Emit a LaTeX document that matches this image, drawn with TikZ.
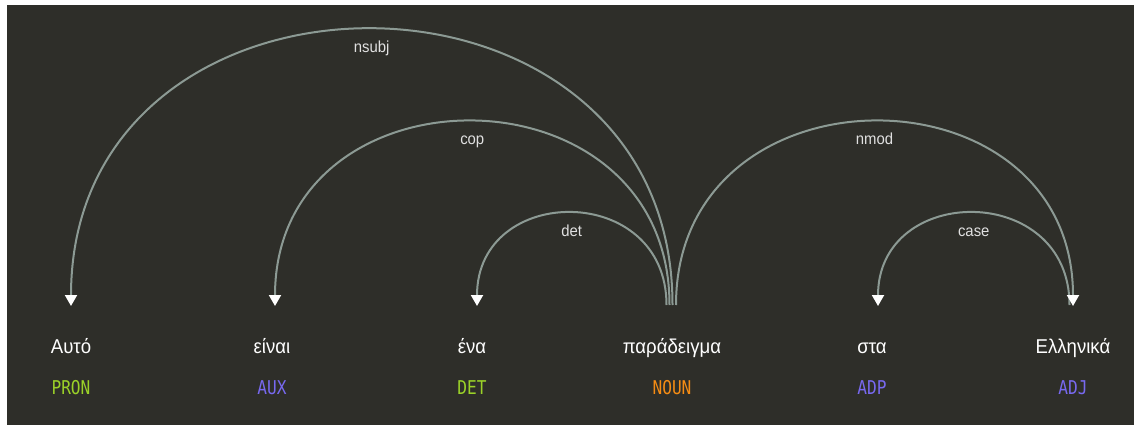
\documentclass[tikz,border=0pt]{standalone}
\usepackage{fontspec}
\setmainfont{Liberation Sans}[FakeStretch=0.93]
\newfontfamily\tagfont{DejaVu Sans Mono}[FakeStretch=0.85]
\usetikzlibrary{arrows.meta}
\definecolor{bgdark}{RGB}{46,46,41}
\definecolor{arcgrey}{RGB}{140,154,148}
\definecolor{tagpron}{RGB}{155,210,40}
\definecolor{tagaux}{RGB}{120,105,240}
\definecolor{tagnoun}{RGB}{245,140,20}
\begin{document}
\begin{tikzpicture}[x=1pt, y=-1pt,
    word/.style={anchor=base, text=white, font=\fontsize{20}{22}\selectfont},
    postag/.style={anchor=base, font=\tagfont\fontsize{19}{21}\selectfont},
    arc/.style={draw=arcgrey, line width=2pt, -{Triangle[width=12pt,length=11pt,color=white]}},
    lbl/.style={midway, anchor=base, yshift=-23pt, text=white!88!black, font=\fontsize{16}{18}\selectfont}]
  \useasboundingbox (0,0) rectangle (1134,425);
  \fill[bgdark] (7,5) rectangle (1134,425);
  % words and their tags
  \node[word] (w1) at (71,353) {Αυτό};
  \node[word] (w2) at (272,353) {είναι};
  \node[word] (w3) at (472,353) {ένα};
  \node[word] (w4) at (672,353) {παράδειγμα};
  \node[word] (w5) at (872,353) {στα};
  \node[word] (w6) at (1073,353) {Ελληνικά};
  \node[postag, text=tagpron] (t1) at (71,394) {PRON};
  \node[postag, text=tagaux] (t2) at (272,394) {AUX};
  \node[postag, text=tagpron] (t3) at (472,394) {DET};
  \node[postag, text=tagnoun] (t4) at (672,394) {NOUN};
  \node[postag, text=tagaux] (t5) at (872,394) {ADP};
  \node[postag, text=tagaux] (t6) at (1073,394) {ADJ};
  % arc ends
  \coordinate (in1) at (71,306);
  \coordinate (in2) at (275,306);
  \coordinate (in3) at (477,306);
  \coordinate (in5) at (878,306);
  \coordinate (in6) at (1073,306);
  \coordinate (out-det) at (666.5,305);
  \coordinate (out-cop) at (669.5,305);
  \coordinate (out-nsubj) at (672.5,305);
  \coordinate (out-nmod) at (676,305);
  \coordinate (out-case) at (1069.5,305);
  % dependencies (case first, so the nmod head sits on top)
  \draw[arc] (out-case) .. controls +(0,-123) and +(0,-123) .. (in5) node[lbl] {case};
  \draw[arc] (out-nsubj) .. controls +(0,-368) and +(0,-368) .. (in1) node[lbl] {nsubj};
  \draw[arc] (out-cop) .. controls +(0,-245) and +(0,-245) .. (in2) node[lbl] {cop};
  \draw[arc] (out-det) .. controls +(0,-123) and +(0,-123) .. (in3) node[lbl] {det};
  \draw[arc] (out-nmod) .. controls +(0,-245) and +(0,-245) .. (in6) node[lbl] {nmod};
\end{tikzpicture}
\end{document}
